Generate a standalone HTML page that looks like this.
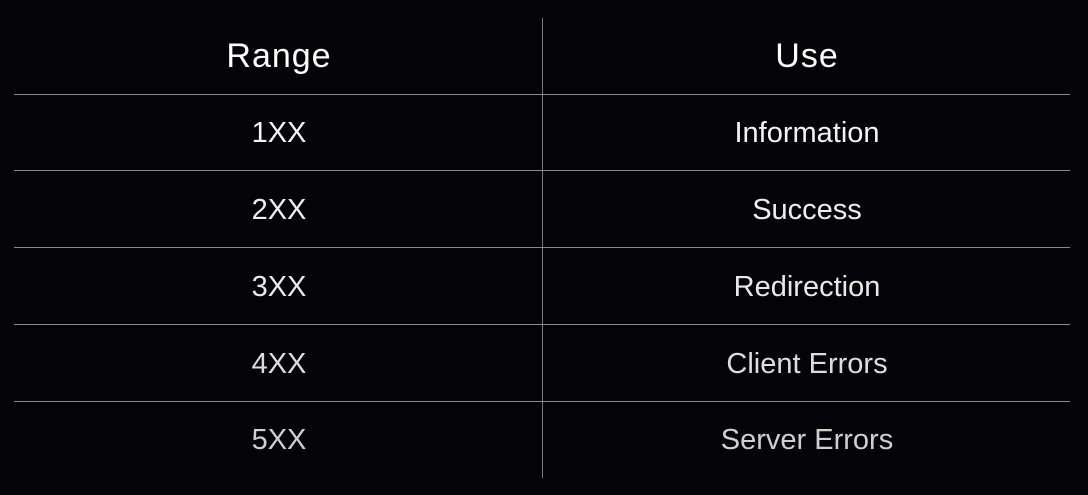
<!DOCTYPE html>
<html><head><style>
body{margin:0;width:1088px;height:495px;background:#040307;overflow:hidden;position:relative;font-family:"Liberation Sans",sans-serif;}
.h{position:absolute;left:14px;width:1056px;height:1px;background:#8a8a8a;}
.v{position:absolute;left:542px;top:18px;width:1px;height:460px;background:#7a7a7a;}
.t{position:absolute;width:400px;text-align:center;font-size:29px;line-height:34px;}
.l{left:79px}.r{left:607px}
.hd{font-size:34px;letter-spacing:1px;color:#fff;line-height:40px}
</style></head><body>
<div class="v"></div>
<div class="h" style="top:94px"></div>
<div class="h" style="top:170px"></div>
<div class="h" style="top:247px"></div>
<div class="h" style="top:324px"></div>
<div class="h" style="top:401px"></div>
<div class="t l hd" style="top:36px">Range</div>
<div class="t r hd" style="top:36px">Use</div>
<div class="t l" style="top:116px;color:#f4f4f4">1XX</div>
<div class="t r" style="top:116px;color:#f4f4f4">Information</div>
<div class="t l" style="top:193px;color:#eee">2XX</div>
<div class="t r" style="top:193px;color:#eee">Success</div>
<div class="t l" style="top:270px;color:#e8e8e8">3XX</div>
<div class="t r" style="top:270px;color:#e8e8e8">Redirection</div>
<div class="t l" style="top:347px;color:#ddd">4XX</div>
<div class="t r" style="top:347px;color:#ddd">Client Errors</div>
<div class="t l" style="top:423px;color:#cfcfcf">5XX</div>
<div class="t r" style="top:423px;color:#cfcfcf">Server Errors</div>
</body></html>
